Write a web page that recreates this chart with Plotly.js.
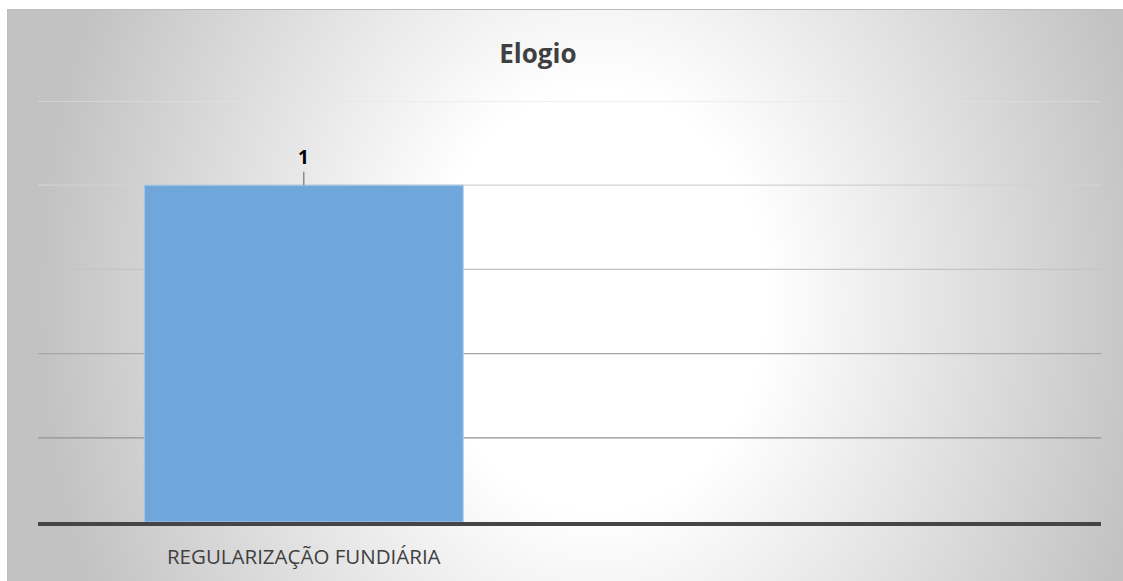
<!DOCTYPE html>
<html>
<head>
<meta charset="utf-8">
<script src="https://cdn.plot.ly/plotly-3.0.1.min.js"></script>
<style>
  html, body { margin: 0; padding: 0; background: #ffffff; }
  #bg {
    position: absolute; left: 7px; top: 9px; width: 1130px; height: 590px;
    border: 1px solid #bdbdbd; box-sizing: border-box;
    background: radial-gradient(ellipse 560px 700px at 590px 290px, #ffffff 0%, #ffffff 30%, #c2c2c2 100%);
  }
  #chart { position: absolute; left: 0; top: 0; width: 1123px; height: 581px; }
</style>
</head>
<body>
<div id="bg"></div>
<div id="chart"></div>
<script>
const chartTitle = "Elogio";
const categories = ["REGULARIZAÇÃO FUNDIÁRIA"];
const values = [1];
const yMax = 1.25;
const gridValues = [0.25, 0.5, 0.75, 1, 1.25];
const gridColors = ["#929292", "#a6a6a6", "#c4c4c4", "#d2d2d2", "#e4e4e4"];

const trace = {
  type: "bar",
  x: categories,
  y: values,
  width: 0.6,
  marker: { color: "#70a7da", line: { color: "#a8c9ea", width: 1 } },
  hoverinfo: "none"
};

const annotations = categories.map((c, i) => ({
  x: c, y: values[i], xref: "x", yref: "y",
  text: "<b>" + values[i] + "</b>",
  showarrow: true, arrowhead: 0, arrowwidth: 1.5, arrowcolor: "#8c8c8c",
  ax: 0, ay: -28, standoff: 0,
  font: { family: "Open Sans, sans-serif", size: 19, color: "#000000" }
}));

const gridShapes = gridValues.map((v, i) => ({
  type: "line", xref: "paper", yref: "y", layer: "below",
  x0: 0, x1: 1, y0: v, y1: v,
  line: { color: gridColors[i], width: 1.2 }
}));

const layout = {
  width: 1123, height: 581,
  margin: { l: 38, r: 22, t: 101, b: 59 },
  paper_bgcolor: "rgba(0,0,0,0)",
  plot_bgcolor: "rgba(0,0,0,0)",
  showlegend: false,
  title: {
    text: "<b>" + chartTitle + "</b>",
    xref: "container", yref: "container",
    x: 0.479, y: 0.907, xanchor: "center", yanchor: "middle",
    font: { family: "Open Sans, sans-serif", size: 26, color: "#404040" }
  },
  xaxis: {
    type: "category",
    range: [-0.5, 1.5],
    showline: true, linecolor: "#454545", linewidth: 4,
    showgrid: false, zeroline: false, ticks: "",
    ticklabelstandoff: 13,
    tickfont: { family: "Open Sans, sans-serif", size: 20.5, color: "#404040" },
    fixedrange: true
  },
  yaxis: {
    range: [0, yMax],
    showticklabels: false, ticks: "",
    showgrid: false,
    zeroline: false, showline: false,
    fixedrange: true
  },
  shapes: gridShapes,
  annotations: annotations
};

Plotly.newPlot("chart", [trace], layout, { staticPlot: true, displayModeBar: false });
</script>
</body>
</html>
